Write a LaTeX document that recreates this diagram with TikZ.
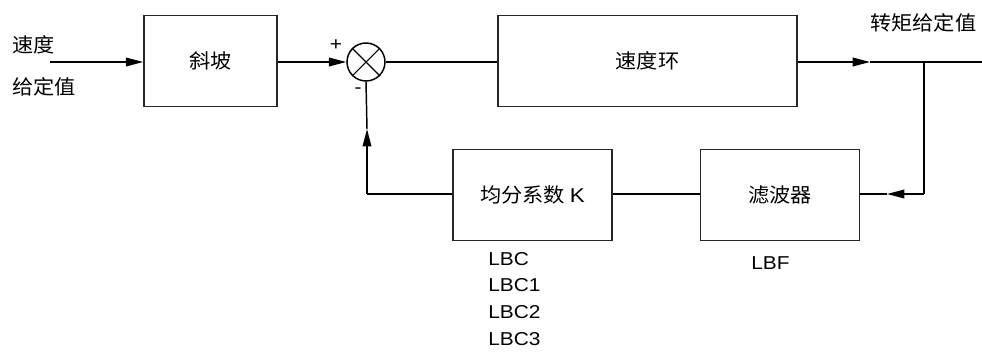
\documentclass[tikz,border=0pt]{standalone}
\usepackage{fontspec}
\setmainfont{Liberation Sans}[FakeStretch=1.12]
\newfontfamily\cjk{Noto Sans CJK SC}[FakeStretch=1.06]
\usetikzlibrary{arrows.meta}
\begin{document}
\begin{tikzpicture}[x=0.75pt,y=-0.75pt,
  blk/.style={draw=black!85,line width=1.2pt,minimum width=#1,minimum height=68.5pt,inner sep=0pt,font=\fontsize{15}{18}\selectfont\cjk},
  ln/.style={line width=1.1pt},
  arr/.style={ln,-{Triangle[length=13pt,width=6.5pt]}},
  lbl/.style={inner sep=0pt,font=\fontsize{15}{18}\selectfont\cjk},
  lat/.style={inner sep=0pt,font=\fontsize{14}{20}\selectfont}]
\useasboundingbox (0,0) rectangle (982,358);
% blocks
\node[blk=99.75pt] (ramp) at (210.5,61) {斜坡};
\node[blk=224pt] (spd) at (647.5,61) {速度环};
\node[blk=119.5pt,minimum height=68pt] (kb) at (532.5,195) {均分系数 {\fontfamily{\rmdefault}\selectfont K}};
\node[blk=119.5pt,minimum height=68pt] (flt) at (780,195) {滤波器};
\node[draw,circle,line width=1.1pt,minimum size=28.5pt,inner sep=0pt] (sum) at (366,62) {};
\draw[line width=0.8pt] (sum.north west) -- (sum.south east) (sum.north east) -- (sum.south west);
% texts
\node[lbl,anchor=west] (in1) at (12,45) {速度};
\node[lbl,anchor=west] (in2) at (12,87) {给定值};
\node[lbl,anchor=west] (outl) at (870,23) {转矩给定值};
\node[lat] (plus) at (336,45) {+};
\node[lat] (minus) at (358,91) {-};
\node[lat,anchor=north west,align=left] (lbc) at (488,252) {LBC\\LBC1\\LBC2\\LBC3};
\node[lat,anchor=north west] (lbf) at (751,256) {LBF};
% coordinates
\coordinate (start) at (50,62);
\coordinate (tipA) at (870,62);
\coordinate (br) at (924,62);
\coordinate (outE) at (982,62);
\coordinate (brd) at (924,194);
\coordinate (tipB) at (887,194);
\coordinate (fbc) at (367,194);
\coordinate (fbtip) at (367,129);
% connectors
\draw[arr] (start) -- (ramp.west |- start);
\draw[arr] (ramp.east |- sum) -- (sum.west);
\draw[ln] (sum.east) -- (spd.west |- sum);
\draw[arr] (spd.east |- tipA) -- (tipA);
\draw[ln] (tipA) -- (outE);
\draw[ln] (br) -- (brd);
\draw[arr] (brd) -- (tipB);
\draw[ln] (tipB) -- (flt.east |- tipB);
\draw[ln] (flt.west |- tipB) -- (kb.east |- tipB);
\draw[ln] (kb.west |- fbc) -- (fbc);
\draw[arr] (fbc) -- (fbtip);
\draw[ln] (fbtip) -- (sum.south);
\end{tikzpicture}
\end{document}
